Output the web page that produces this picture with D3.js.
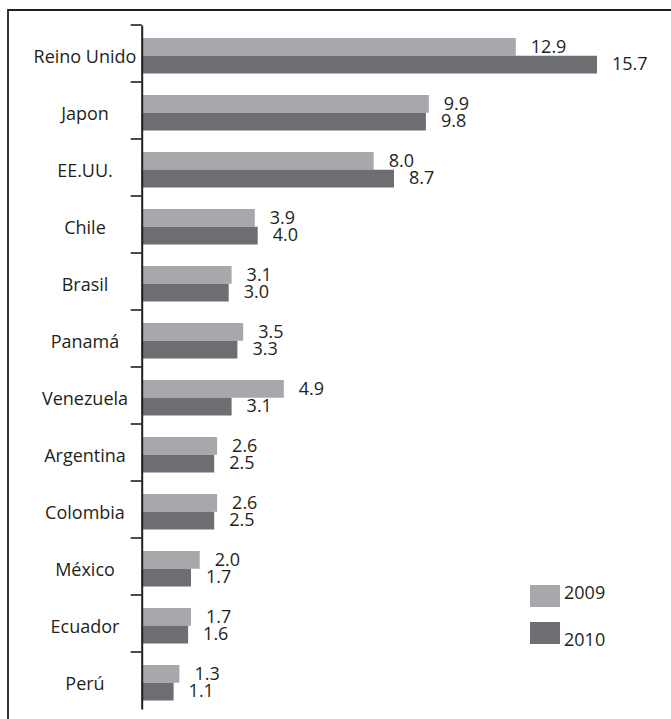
<!DOCTYPE html>
<html>
<head>
<meta charset="utf-8">
<script src="https://cdn.jsdelivr.net/npm/d3@7"></script>
<style>
  html, body { margin: 0; padding: 0; background: #fff; }
  svg { display: block; }
  text { font-family: "Open Sans", "Noto Sans", sans-serif; fill: #231f20; }
</style>
</head>
<body>
<svg id="chart" width="671" height="719"></svg>
<script>
const categories = ["Reino Unido", "Japon", "EE.UU.", "Chile", "Brasil", "Panamá", "Venezuela", "Argentina", "Colombia", "México", "Ecuador", "Perú"];
const series = ["2009", "2010"];
const values2009 = [12.9, 9.9, 8.0, 3.9, 3.1, 3.5, 4.9, 2.6, 2.6, 2.0, 1.7, 1.3];
const values2010 = [15.7, 9.8, 8.7, 4.0, 3.0, 3.3, 3.1, 2.5, 2.5, 1.7, 1.6, 1.1];
const colors = ["#a7a8ab", "#6d6e71"];

const svg = d3.select("#chart");
const W = 671, H = 719;
const axisX = 141.7;

// frame (left and top lines)
svg.append("path")
  .attr("d", `M8,${H} L8,10 L${W},10`)
  .attr("fill", "none").attr("stroke", "#231f20").attr("stroke-width", 1.8);

const x = d3.scaleLinear().domain([0, 15.7]).range([axisX, axisX + 455.3]);
const y = d3.scaleBand().domain(categories).range([25, 709]).paddingInner(0).paddingOuter(0);
const ySub = d3.scaleBand().domain(series).range([13, 48.5]);

const data = categories.map((c, i) => ({ cat: c, vals: [values2009[i], values2010[i]] }));

const g = svg.append("g");
const groups = g.selectAll("g.cat").data(data).join("g")
  .attr("class", "cat")
  .attr("transform", d => `translate(0,${y(d.cat)})`);

series.forEach((s, si) => {
  groups.append("rect")
    .attr("x", axisX)
    .attr("y", ySub(s))
    .attr("width", d => x(d.vals[si]) - axisX)
    .attr("height", ySub.bandwidth())
    .attr("fill", colors[si]);
  groups.append("text")
    .attr("x", d => x(d.vals[si]) + 15)
    .attr("y", ySub(s) + ySub.bandwidth() / 2 - (si === 1 ? 1.5 : 0))
    .attr("dy", "0.36em")
    .attr("font-size", 18)
    .text(d => d.vals[si].toFixed(1));
});

// category labels (centered)
groups.append("text")
  .attr("x", 85)
  .attr("y", ySub("2010"))
  .attr("dy", "0.38em")
  .attr("text-anchor", "middle")
  .attr("font-size", 18)
  .text(d => d.cat);

// axis
const axis = d3.axisLeft(y).tickSize(11).tickFormat("").tickSizeOuter(0);
const ax = svg.append("g").attr("transform", `translate(${axisX},0)`).call(axis);
ax.select(".domain").attr("stroke", "#231f20").attr("stroke-width", 2);
ax.selectAll(".tick").attr("transform", d => `translate(0,${y(d)})`);
ax.selectAll(".tick line").attr("stroke", "#231f20").attr("stroke-width", 1.6);

// legend
const legY = [585, 622];
series.forEach((s, si) => {
  svg.append("rect").attr("x", 530).attr("y", legY[si]).attr("width", 30).attr("height", 22).attr("fill", colors[si]);
  svg.append("text").attr("x", 564).attr("y", legY[si] + 11 + (si === 0 ? -3 : 7)).attr("dy", "0.36em")
    .attr("font-size", 18).text(s);
});
</script>
</body>
</html>
